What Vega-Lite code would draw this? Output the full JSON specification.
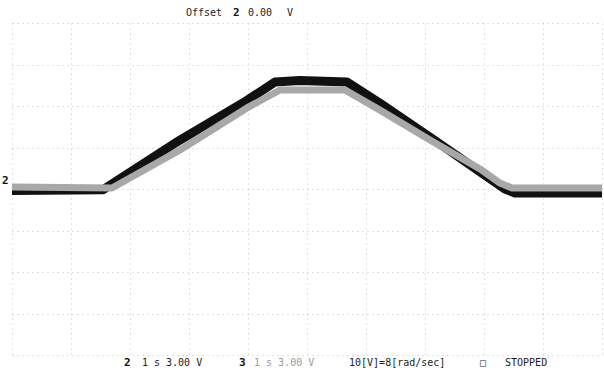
{
  "$schema": "https://vega.github.io/schema/vega-lite/v6.json",
  "width": 590,
  "height": 332,
  "autosize": {"type": "none"},
  "padding": {"left": 12, "top": 23, "right": 2, "bottom": 21},
  "background": "white",
  "config": {"view": {"stroke": null}},
  "datasets": {
    "black": [
      {"t": 0, "v": -0.1}, {"t": 1.542, "v": -0.05}, {"t": 2.847, "v": 3.54}, {"t": 3.915, "v": 6.22},
      {"t": 4.458, "v": 7.73}, {"t": 4.881, "v": 7.85}, {"t": 5.678, "v": 7.73}, {"t": 6.237, "v": 6.2},
      {"t": 7.085, "v": 3.75}, {"t": 7.932, "v": 1.25}, {"t": 8.356, "v": 0},
      {"t": 8.525, "v": -0.29}, {"t": 10, "v": -0.29}
    ],
    "gray": [
      {"t": 0, "v": 0.14}, {"t": 1.695, "v": 0.07}, {"t": 2.847, "v": 2.82}, {"t": 3.983, "v": 5.86},
      {"t": 4.542, "v": 7.16}, {"t": 5.644, "v": 7.16}, {"t": 6.237, "v": 5.7}, {"t": 7.085, "v": 3.55},
      {"t": 7.932, "v": 1.45}, {"t": 8.271, "v": 0.43}, {"t": 8.475, "v": 0.07}, {"t": 10, "v": 0.07}
    ],
    "boldText": [
      {"label": "2", "t": 3.746, "v": 12.69},
      {"label": "2", "t": 1.898, "v": -12.58},
      {"label": "3", "t": 3.847, "v": -12.58},
      {"label": "2", "t": -0.17, "v": 0.6}
    ],
    "darkText": [
      {"label": "Offset", "t": 2.949, "v": 12.69},
      {"label": "0.00", "t": 4.0, "v": 12.69},
      {"label": "V", "t": 4.66, "v": 12.69},
      {"label": "1 s 3.00 V", "t": 2.203, "v": -12.58},
      {"label": "10[V]=8[rad/sec]", "t": 5.712, "v": -12.58},
      {"label": "□", "t": 7.932, "v": -12.58},
      {"label": "STOPPED", "t": 8.356, "v": -12.58}
    ],
    "lightText": [
      {"label": "1 s 3.00 V", "t": 4.102, "v": -12.58}
    ]
  },
  "encoding": {
    "x": {"field": "t", "type": "quantitative", "scale": {"domain": [0, 10], "nice": false, "zero": false},
      "axis": {"values": [0,1,2,3,4,5,6,7,8,9,10], "grid": true, "labels": false, "ticks": false, "domain": false, "title": null,
        "gridColor": "#9a9a9a", "gridDash": [1, 4], "gridWidth": 1, "gridOpacity": 0.6}},
    "y": {"field": "v", "type": "quantitative", "scale": {"domain": [-12, 12], "nice": false, "zero": false},
      "axis": {"values": [-12,-9,-6,-3,0,3,6,9,12], "grid": true, "labels": false, "ticks": false, "domain": false, "title": null,
        "gridColor": "#9a9a9a", "gridDash": [1, 4], "gridWidth": 1, "gridOpacity": 0.6}}
  },
  "layer": [
    {"data": {"name": "black"}, "mark": {"type": "line", "color": "#111111", "strokeWidth": 9, "strokeJoin": "round", "clip": true}},
    {"data": {"name": "gray"}, "mark": {"type": "line", "color": "#a8a8a8", "strokeWidth": 7, "strokeJoin": "round", "clip": true}},
    {"data": {"name": "boldText"}, "mark": {"type": "text", "align": "left", "baseline": "middle", "font": "DejaVu Sans Mono", "fontSize": 11, "fontWeight": "bold", "color": "#111111", "clip": false},
      "encoding": {"text": {"field": "label"}}},
    {"data": {"name": "darkText"}, "mark": {"type": "text", "align": "left", "baseline": "middle", "font": "DejaVu Sans Mono", "fontSize": 10, "color": "#222222", "clip": false},
      "encoding": {"text": {"field": "label"}}},
    {"data": {"name": "lightText"}, "mark": {"type": "text", "align": "left", "baseline": "middle", "font": "DejaVu Sans Mono", "fontSize": 10, "color": "#9a9a9a", "clip": false},
      "encoding": {"text": {"field": "label"}}}
  ]
}
